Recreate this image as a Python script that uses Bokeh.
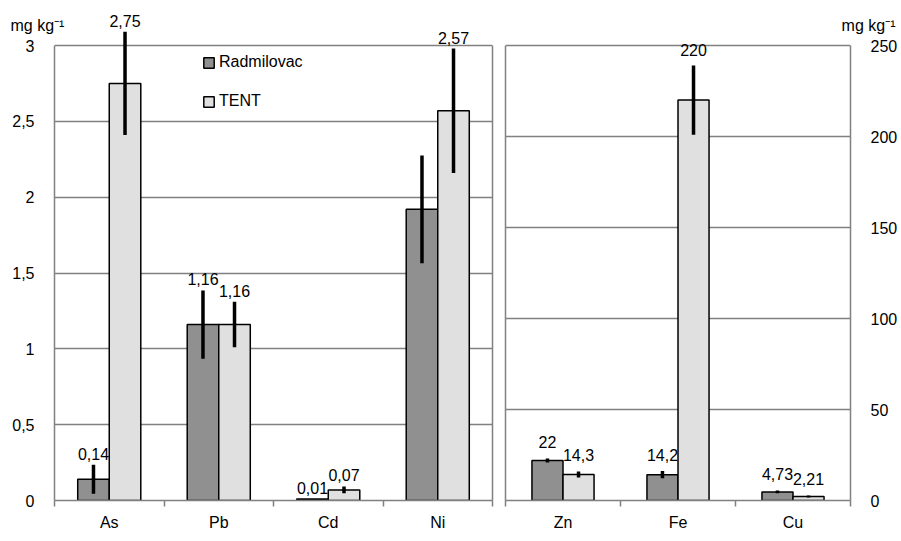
from bokeh.plotting import figure
from bokeh.layouts import row
from bokeh.models import (ColumnDataSource, Whisker, LabelSet, FixedTicker, Title,
                          CustomJSTickFormatter, Range1d, LinearAxis)
from bokeh.core.properties import value
from bokeh.embed import file_html
from bokeh.resources import INLINE

# ---------------- data ----------------
series_names = ["Radmilovac", "TENT"]

left_cats = ["As", "Pb", "Cd", "Ni"]
left_rad = [0.14, 1.16, 0.01, 1.92]
left_rad_err = [0.095, 0.225, 0.0, 0.355]
left_tent = [2.75, 1.16, 0.07, 2.57]
left_tent_err = [0.34, 0.15, 0.023, 0.41]
left_rad_labels = ["0,14", "1,16", "0,01", ""]
left_tent_labels = ["2,75", "1,16", "0,07", "2,57"]
left_ticks = [0, 0.5, 1, 1.5, 2, 2.5, 3]

right_cats = ["Zn", "Fe", "Cu"]
right_rad = [22, 14.2, 4.73]
right_rad_err = [1.1, 2.0, 0.8]
right_tent = [14.3, 220, 2.21]
right_tent_err = [1.7, 19.0, 0.6]
right_rad_labels = ["22", "14,2", "4,73"]
right_tent_labels = ["14,3", "220", "2,21"]
right_ticks = [0, 50, 100, 150, 200, 250]

unit_text = "mg kg\u207b\u00b9"

# ---------------- style ----------------
FONT = "Liberation Sans"
C_RAD = "#909090"
C_TENT = "#e0e0e0"
C_FRAME = "#808080"

FRAME_H = 490        # plotting frame (extends above the drawn box for labels)
BOX_H = 455          # visible box height (0 .. top tick)
TOP = 10
BOTTOM = 33


def make_panel(cats, rad, rad_err, tent, tent_err, rad_lbl, tent_lbl, yticks,
               bar_w, side, frame_w, mb_left, mb_right, lbl_off):
    n = len(cats)
    ytop = yticks[-1]
    ymax = ytop * FRAME_H / BOX_H
    p = figure(width=mb_left + frame_w + mb_right, height=TOP + FRAME_H + BOTTOM,
               frame_width=frame_w, frame_height=FRAME_H,
               x_range=Range1d(0, n), y_range=Range1d(0, ymax),
               y_axis_location=side, output_backend="svg", toolbar_location=None,
               min_border_left=mb_left, min_border_right=mb_right,
               min_border_top=TOP, min_border_bottom=BOTTOM)
    p.background_fill_color = "white"
    p.border_fill_color = "white"
    p.outline_line_color = None

    # unit text drawn by the title, pulled down beside the top tick label
    p.title = Title(text=unit_text, align=side, offset=-44 if side == "left" else -45,
                    standoff=-47, text_font=FONT, text_font_size="16px",
                    text_font_style="normal", text_color="black")

    xs = [i + 0.5 for i in range(n)]
    x_r = [x - bar_w / 2 for x in xs]
    x_t = [x + bar_w / 2 for x in xs]

    src_r = ColumnDataSource(dict(x=x_r, top=rad, up=[v + e for v, e in zip(rad, rad_err)],
                                  lo=[v - e for v, e in zip(rad, rad_err)], txt=rad_lbl))
    src_t = ColumnDataSource(dict(x=x_t, top=tent, up=[v + e for v, e in zip(tent, tent_err)],
                                  lo=[v - e for v, e in zip(tent, tent_err)], txt=tent_lbl))

    kw_r = dict(legend_label=series_names[0]) if side == "left" else {}
    kw_t = dict(legend_label=series_names[1]) if side == "left" else {}
    p.vbar(x="x", top="top", bottom=0, width=bar_w, source=src_r, fill_color=C_RAD,
           line_color="black", line_width=1.5, **kw_r)
    p.vbar(x="x", top="top", bottom=0, width=bar_w, source=src_t, fill_color=C_TENT,
           line_color="black", line_width=1.5, **kw_t)

    for src in (src_r, src_t):
        w = Whisker(base="x", upper="up", lower="lo", source=src, dimension="height",
                    upper_head=None, lower_head=None, line_color="black",
                    line_width=3.5, level="overlay")
        p.add_layout(w)
        ls = LabelSet(x="x", y="up", text="txt", source=src, text_align="center",
                      text_baseline="bottom", y_offset=lbl_off, text_font=value(FONT),
                      text_font_size=value("16px"), text_color="black", level="overlay")
        p.add_layout(ls)

    # x axis: labels at centres, ticks at category boundaries
    xa = p.xaxis[0]
    xa.ticker = FixedTicker(ticks=xs, minor_ticks=list(range(n + 1)))
    xa.formatter = CustomJSTickFormatter(args=dict(cats=cats),
                                         code="return cats[Math.floor(tick)];")
    xa.major_tick_out = 0
    xa.major_tick_in = 0
    xa.minor_tick_out = 6
    xa.minor_tick_in = 0
    xa.minor_tick_line_color = C_FRAME
    xa.minor_tick_line_width = 1.5
    xa.axis_line_color = C_FRAME
    xa.axis_line_width = 1.5
    xa.major_label_standoff = 7
    xa.major_label_text_font = FONT
    xa.major_label_text_font_size = "16px"
    xa.major_label_text_color = "black"

    ya = p.yaxis[0]
    ya.ticker = FixedTicker(ticks=yticks, minor_ticks=[])
    ya.formatter = CustomJSTickFormatter(code="return String(tick).replace('.', ',');")
    ya.bounds = (0, ytop)
    ya.major_tick_out = 0
    ya.major_tick_in = 0
    ya.minor_tick_out = 0
    ya.axis_line_color = C_FRAME
    ya.axis_line_width = 1.5
    ya.major_label_standoff = 20
    ya.major_label_text_font = FONT
    ya.major_label_text_font_size = "16px"
    ya.major_label_text_color = "black"

    # plain axis line closing the box on the other side
    other = "right" if side == "left" else "left"
    edge = LinearAxis(ticker=FixedTicker(ticks=[]), bounds=(0, ytop),
                      axis_line_color=C_FRAME, axis_line_width=1.5,
                      major_tick_out=0, major_tick_in=0, minor_tick_out=0,
                      minor_tick_in=0, major_label_standoff=0,
                      major_label_text_font_size="0px")
    p.add_layout(edge, other)

    p.xgrid.visible = False
    p.ygrid.ticker = FixedTicker(ticks=yticks)
    p.ygrid.grid_line_color = C_FRAME
    p.ygrid.grid_line_width = 1.4
    return p


p1 = make_panel(left_cats, left_rad, left_rad_err, left_tent, left_tent_err,
                left_rad_labels, left_tent_labels, left_ticks, 0.288, "left",
                438, 54, 6, 5)
p2 = make_panel(right_cats, right_rad, right_rad_err, right_tent, right_tent_err,
                right_rad_labels, right_tent_labels, right_ticks, 0.27, "right",
                345, 7, 47, 10)

lg = p1.legend[0]
lg.location = (148, 390)
lg.padding = 0
lg.margin = 0
lg.spacing = 21
lg.glyph_width = 13
lg.glyph_height = 13
lg.label_height = 13
lg.label_standoff = 4
lg.label_text_font = FONT
lg.label_text_font_size = "16px"
lg.label_text_color = "black"
lg.background_fill_alpha = 0
lg.border_line_color = None

layout = row(p1, p2)
open("out.html", "w").write(file_html(layout, INLINE))
